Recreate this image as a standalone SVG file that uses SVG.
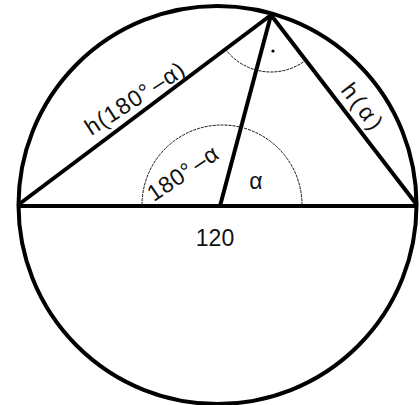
<svg xmlns="http://www.w3.org/2000/svg" width="420" height="405" viewBox="0 0 420 405">
<style>
.thick{fill:none;stroke:#000;stroke-width:4;stroke-linecap:butt;stroke-linejoin:round}
.thin{fill:none;stroke:#111;stroke-width:1;stroke-dasharray:3 1}
.lbl{font-family:"Liberation Sans","Open Sans",sans-serif;font-size:23px;fill:#111}
</style>
<rect width="420" height="405" fill="#fff"/>
<g id="figure">
<circle class="thick" cx="217.5" cy="205" r="199"/>
<line class="thick" x1="17" y1="206" x2="418" y2="206" stroke-width="5"/>
<polyline class="thick" points="18,205 271,15 417,205"/>
<line class="thick" x1="271" y1="15" x2="220" y2="206"/>
<path class="thin" d="M225.5,49.3 A57,57 0 0 0 306,60"/>
<path class="thin" d="M142,205 A80,80 0 0 1 302,205"/>
<circle cx="273" cy="51" r="1.6" fill="#000"/>
</g>
<g id="labels">
<text class="lbl" x="139" y="105" text-anchor="middle" transform="rotate(-33 139 105)" textLength="114">h(180°<tspan dx="3">–α)</tspan></text>
<text class="lbl" x="356" y="111" text-anchor="middle" transform="rotate(52.3 356 111)" textLength="52">h(α)</text>
<text class="lbl" x="187" y="180" text-anchor="middle" transform="rotate(-34 187 180)" textLength="80">180°<tspan dx="3">–α</tspan></text>
<text class="lbl" x="256" y="189" text-anchor="middle">α</text>
<text class="lbl" x="215" y="246" text-anchor="middle">120</text>
</g>
</svg>
